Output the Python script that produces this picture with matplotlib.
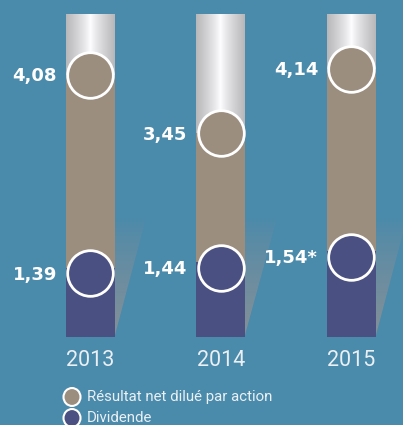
import matplotlib.pyplot as plt
import numpy as np
from matplotlib.patches import Rectangle, Polygon

years = ['2013', '2014', '2015']
eps = [4.08, 3.45, 4.14]
dividend = [1.39, 1.44, 1.54]
eps_labels = ['4,08', '3,45', '4,14']
div_labels = ['1,39', '1,44', '1,54*']
legend_labels = ['Résultat net dilué par action', 'Dividende']

bg = '#4a8aab'
brown = '#9c8e7e'
navy = '#4a5081'
light = '#eaf0f4'

bar_w = 0.375
# layout in the eps scale (lower axes) and dividend scale (upper axes)
eps_bottom, eps_top = 1.270, 4.728
shadow_top = 2.545
shadow_w = 0.24
div_bottom = 0.817

fig = plt.figure(figsize=(4.03, 4.25), dpi=100, facecolor=bg)
ax = fig.add_axes([0, 0, 1, 1])
ax.set_facecolor(bg)
ax.set_xlim(-0.693, 2.395)
ax.set_ylim(0.328, 4.878)
ax.axis('off')

ax2 = fig.add_axes([0, 0, 1, 1])
ax2.set_xlim(-0.693, 2.395)
ax2.set_ylim(0.025, 3.853)
ax2.axis('off')
ax2.patch.set_alpha(0)

# horizontal metal-like gradient for the empty part of the bars
t = np.linspace(-1, 1, 200)
g = 1 - 0.28 * np.abs(t) ** 0.8
grad = np.dstack([g, g, g * 1.01]).clip(0, 1)

# vertical fading shadow
a = 0.8 * np.linspace(1, 0, 100)[:, None] ** 0.8
shade = np.zeros((100, 2, 4))
shade[..., 0] = 0.58
shade[..., 1] = 0.57
shade[..., 2] = 0.58
shade[..., 3] = a

xs = np.arange(len(years))
for i in xs:
    x0 = i - bar_w / 2
    x1 = i + bar_w / 2
    tri = Polygon([(x1, eps_bottom + 0.02), (x1, shadow_top), (x1 + shadow_w, shadow_top)],
                  closed=True, facecolor='none', edgecolor='none')
    ax.add_patch(tri)
    im = ax.imshow(shade, extent=(x1, x1 + shadow_w, eps_bottom, shadow_top),
                   origin='lower', aspect='auto', zorder=1)
    im.set_clip_path(tri)
    ax.imshow(grad, extent=(x0, x1, eps_bottom, eps_top), aspect='auto', zorder=2)
    ax.add_patch(Rectangle((x0, eps_bottom), bar_w, eps[i] - eps_bottom,
                           facecolor=brown, edgecolor='none', zorder=3))
    ax2.add_patch(Rectangle((x0, div_bottom), bar_w, dividend[i] - div_bottom + 0.05,
                            facecolor=navy, edgecolor='none', zorder=3))

ax.scatter(xs, eps, s=1080, color=brown, edgecolor='white', linewidth=2, zorder=5)
ax2.scatter(xs, dividend, s=1080, color=navy, edgecolor='white', linewidth=2, zorder=5)

for i in xs:
    ax.annotate(eps_labels[i], (i, eps[i]), xytext=(-24, -1), textcoords='offset points',
                ha='right', va='center', color='white', fontsize=13, fontweight='bold')
    ax2.annotate(div_labels[i], (i, dividend[i]), xytext=(-24, -1), textcoords='offset points',
                 ha='right', va='center', color='white', fontsize=13, fontweight='bold')
    ax2.text(i, 0.61, years[i], ha='center', va='center', color=light,
             fontsize=15.5, family=['Roboto', 'DejaVu Sans'])

# legend
for j, (lab, col) in enumerate(zip(legend_labels, [brown, navy])):
    yf = 1 - (397 + 21 * j) / 425
    fig.patches.append(plt.Circle((72 / 403, yf), 8.5 / 403, transform=fig.transFigure,
                                  facecolor=col, edgecolor='white', linewidth=1.5))
    fig.text(87 / 403, yf, lab, ha='left', va='center', color=light, fontsize=10.8,
             family=['Roboto', 'DejaVu Sans'])

fig.savefig('out.png', dpi=100, facecolor=bg)
